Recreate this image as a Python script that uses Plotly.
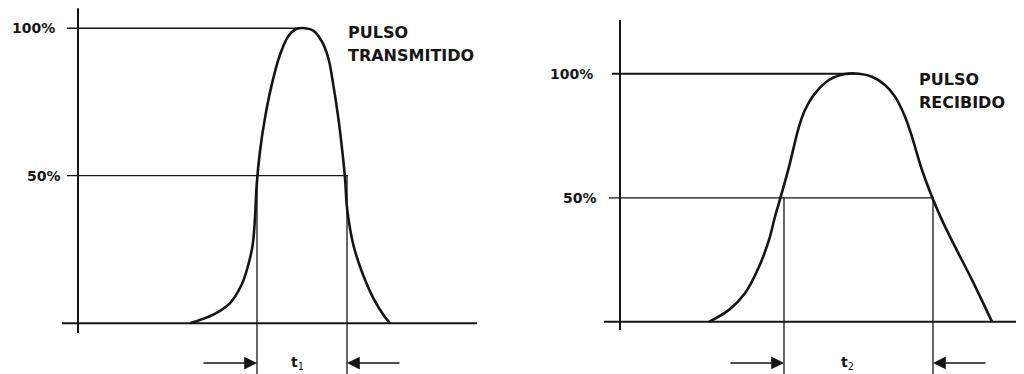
import plotly.graph_objects as go

##### Data #####

# Pulso transmitido (tiempo, % amplitud)
tx_t = [11.2, 13.53, 15.2, 16.37, 17.03, 17.47, 17.7, 17.87, 18.2, 18.7, 19.37, 20.2, 21.03,
        21.87, 22.7, 23.53, 24.37, 25.03, 25.53, 26.03, 26.43, 26.7, 26.87, 27.03, 27.53,
        28.37, 29.53, 30.53, 31.2]
tx_amp = [0, 2.9, 6.8, 13.1, 19.8, 26.6, 35.7, 46.9, 58.3, 69.6, 80.8, 91.0, 97.3,
          99.8, 100, 99.2, 95.6, 89.9, 80.8, 69.6, 58.3, 49.2, 40.2, 35.7, 26.6,
          17.6, 8.5, 2.9, 0]

# Pulso recibido
rx_t = [8.9, 10.9, 12.5, 13.9, 14.9, 15.5, 16.0, 16.9, 17.9, 18.5, 19.5, 20.9, 22.5, 23.9,
        25.2, 26.5, 27.5, 28.5, 29.2, 30.2, 31.3, 32.2, 33.5, 35.2, 37.2]
rx_amp = [0, 4.8, 11.5, 22.2, 33.0, 42.4, 49.4, 62.5, 78.7, 85.4, 92.1, 97.5, 99.9, 100,
          98.8, 95.5, 90.8, 82.7, 74.6, 61.2, 49.4, 41.0, 30.3, 16.9, 0]

# Cruces al 50 % (ancho del pulso t1, t2) y posicion del pico
t1_edges = [17.9, 26.9]
t2_edges = [16.4, 31.3]
tx_peak_t = 22.7
rx_peak_t = 23.5

levels = [100, 50]
level_labels = ["100%", "50%"]

INK = "#151515"
FONT = "DejaVu Sans"

fig = go.Figure()


def line(xs, ys, xa, ya, width):
    fig.add_trace(go.Scatter(x=xs, y=ys, mode="lines", xaxis=xa, yaxis=ya,
                             line=dict(color=INK, width=width), hoverinfo="skip",
                             showlegend=False))


def panel(xa, ya, t, amp, edges, peak_t, axis_top, base_end, lvl_start, lvl_w,
          label_x, arrow_y, sub, name, name_t, name_y):
    # ejes
    line([0, 0], [axis_top, -3.3], xa, ya, 2)
    line([-1.6, base_end], [0, 0], xa, ya, 2)
    # niveles 100 % y 50 %
    line([lvl_start[0], peak_t], [100, 100], xa, ya, lvl_w[0])
    line([lvl_start[1], edges[1] + 0.1], [50, 50], xa, ya, lvl_w[1])
    # pulso
    fig.add_trace(go.Scatter(x=t, y=amp, mode="lines", xaxis=xa, yaxis=ya,
                             line=dict(color=INK, width=2.6, shape="spline", smoothing=1.0),
                             hoverinfo="skip", showlegend=False))
    # verticales al 50 %
    for e in edges:
        line([e, e], [50, -40], xa, ya, 1.3)
    for lab, lv, lx in zip(level_labels, levels, label_x):
        fig.add_annotation(x=lx, y=lv, xref=xa, yref=ya, text="<b>" + lab + "</b>",
                           showarrow=False, xanchor="right", yanchor="middle",
                           font=dict(family=FONT, size=14, color=INK))
    # flechas hacia los cruces
    fig.add_annotation(x=edges[0], y=arrow_y, ax=edges[0] - 5.5, ay=arrow_y,
                       xref=xa, yref=ya, axref=xa, ayref=ya, text="", showarrow=True,
                       arrowhead=2, arrowsize=1.6, arrowwidth=1.6, arrowcolor=INK)
    fig.add_annotation(x=edges[1], y=arrow_y, ax=edges[1] + 5.4, ay=arrow_y,
                       xref=xa, yref=ya, axref=xa, ayref=ya, text="", showarrow=True,
                       arrowhead=2, arrowsize=1.6, arrowwidth=1.6, arrowcolor=INK)
    fig.add_annotation(x=sub[0], y=arrow_y, xref=xa, yref=ya, text=sub[1], showarrow=False,
                       yanchor="middle", font=dict(family=FONT, size=14, color=INK))
    for txt, yy in zip(name, name_y):
        fig.add_annotation(x=name_t, y=yy, xref=xa, yref=ya, text="<b>" + txt + "</b>",
                           showarrow=False, xanchor="left", yanchor="middle",
                           font=dict(family=FONT, size=16, color=INK))


panel("x", "y", tx_t, tx_amp, t1_edges, tx_peak_t, 106.8, 39.9, [-1.1, -1.1], [1.5, 1.3],
      [-2.1, -1.5], -13.5, (21.9, "<b>t</b><sub>1</sub>"), ["PULSO", "TRANSMITIDO"],
      26.8, [98.5, 90.9])
panel("x2", "y2", rx_t, rx_amp, t2_edges, rx_peak_t, 121.7, 40.4, [-0.8, -1.1], [2, 1.3],
      [-2.5, -2.1], -16.6, (22.8, "<b>t</b><sub>2</sub>"), ["PULSO", "RECIBIDO"],
      29.7, [97.5, 88.6])

# la pagina tiene un margen de 8 px: el grafico ocupa 1016x366
fig.update_layout(
    width=1016, height=366,
    margin=dict(l=0, r=0, t=0, b=0),
    paper_bgcolor="white", plot_bgcolor="white",
    xaxis=dict(domain=[0, 0.49606], range=[-7.0, 43.4], visible=False),
    yaxis=dict(domain=[0, 1], range=[-17.22, 106.85], visible=False),
    xaxis2=dict(domain=[0.49606, 1], range=[-10.8, 40.4], visible=False),
    yaxis2=dict(domain=[0, 1], range=[-21.05, 126.53], visible=False, anchor="x2"),
)

fig.write_html("out.html")
